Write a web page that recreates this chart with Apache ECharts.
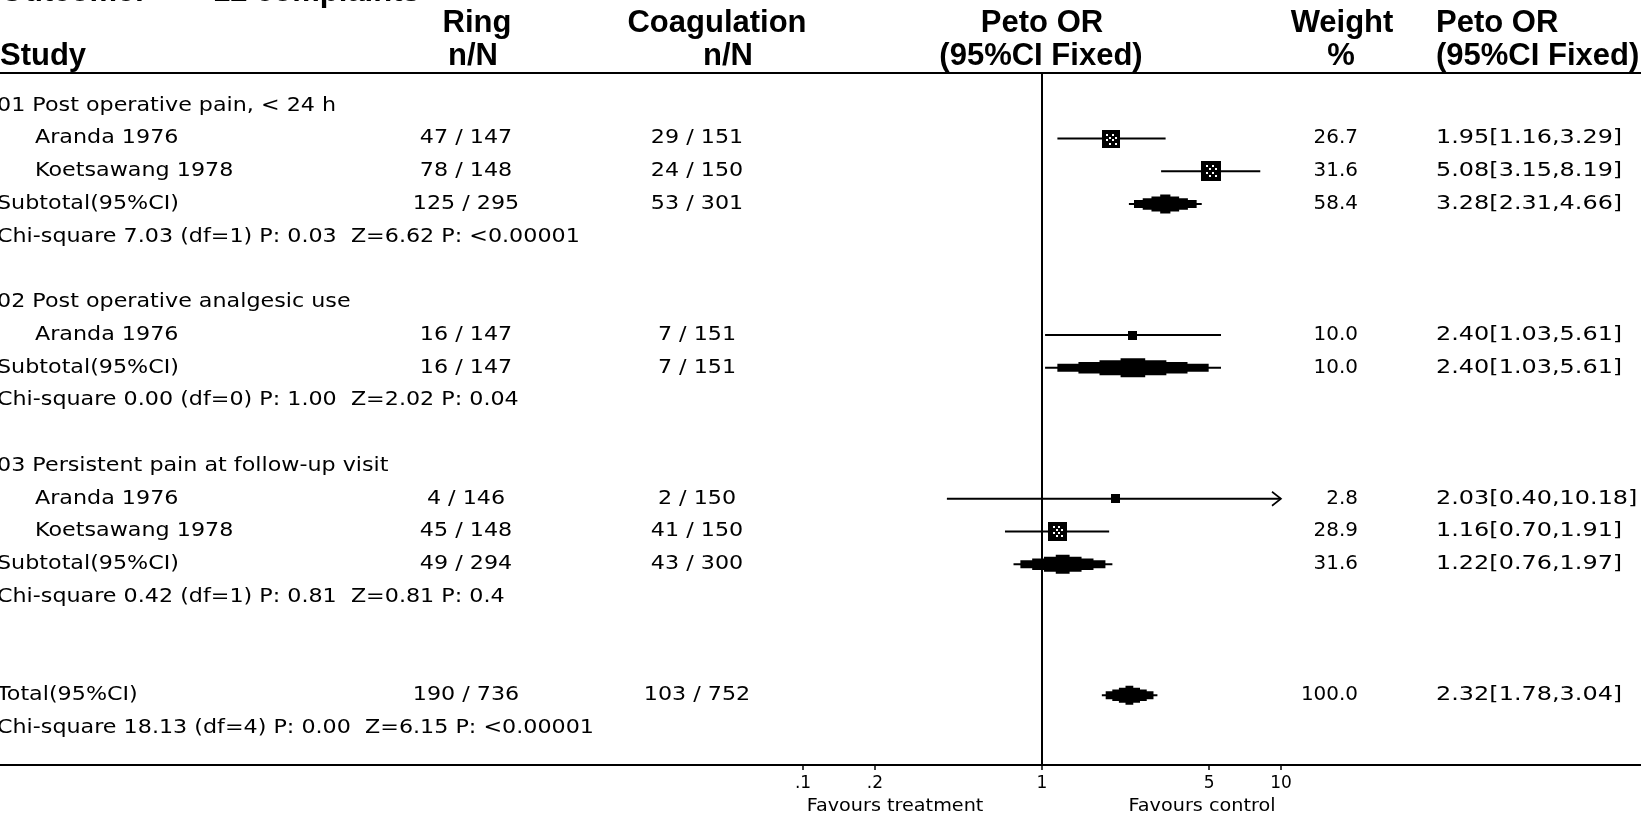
<!DOCTYPE html>
<html>
<head>
<meta charset="utf-8">
<script src="https://cdn.jsdelivr.net/npm/echarts@6/dist/echarts.min.js"></script>
<style>html,body{margin:0;padding:0;background:#fff}#c{width:1641px;height:814px}</style>
</head>
<body>
<div id="c"></div>
<script>
// ---------------- data ----------------
const rowLabels = [
  '01 Post operative pain, < 24 h',
  'Aranda 1976',
  'Koetsawang 1978',
  'Subtotal(95%CI)',
  'Chi-square 7.03 (df=1) P: 0.03  Z=6.62 P: <0.00001',
  '',
  '02 Post operative analgesic use',
  'Aranda 1976',
  'Subtotal(95%CI)',
  'Chi-square 0.00 (df=0) P: 1.00  Z=2.02 P: 0.04',
  '',
  '03 Persistent pain at follow-up visit',
  'Aranda 1976',
  'Koetsawang 1978',
  'Subtotal(95%CI)',
  'Chi-square 0.42 (df=1) P: 0.81  Z=0.81 P: 0.4',
  '',
  '',
  'Total(95%CI)',
  'Chi-square 18.13 (df=4) P: 0.00  Z=6.15 P: <0.00001'
];

// n/N columns
const nnRows      = [1, 2, 3, 7, 8, 12, 13, 14, 18];
const ringEvents  = [47, 78, 125, 16, 16, 4, 45, 49, 190];
const ringTotal   = [147, 148, 295, 147, 147, 146, 148, 294, 736];
const coagEvents  = [29, 24, 53, 7, 7, 2, 41, 43, 103];
const coagTotal   = [151, 150, 301, 151, 151, 150, 150, 300, 752];

// individual studies
const studyRows   = [1, 2, 7, 12, 13];
const studyOR     = [1.95, 5.08, 2.40, 2.03, 1.16];
const studyLo     = [1.16, 3.15, 1.03, 0.40, 0.70];
const studyHi     = [3.29, 8.19, 5.61, 10.18, 1.91];
const studyWeight = [26.7, 31.6, 10.0, 2.8, 28.9];

// pooled estimates (subtotals and total)
const pooledRows   = [3, 8, 14, 18];
const pooledOR     = [3.28, 2.40, 1.22, 2.32];
const pooledLo     = [2.31, 1.03, 0.76, 1.78];
const pooledHi     = [4.66, 5.61, 1.97, 3.04];
const pooledWeight = [58.4, 10.0, 31.6, 100.0];

// axis ticks
const tickValues = [0.1, 0.2, 1, 5, 10];
const tickLabels = ['.1', '.2', '1', '5', '10'];
const nullValue = 1;

// ---------------- layout ----------------
const W = 1641, H = 814;
const NULL_X = 1042, DECADE = 239;
const GRID_TOP = 73, GRID_BOTTOM = 49, ROW_H = 32.75;
const Y_MIN = -1, Y_MAX = Y_MIN + (H - GRID_TOP - GRID_BOTTOM) / ROW_H;
const COL = { left: -3, study: 35, ring: 466, coag: 697, weight: 1358, or: 1436 };
const BODY_FONT = '19px "DejaVu Sans"';
const BODY_SX = 1.17;
const OR_SX = 1.26;
const WEIGHT_SX = 1.05;
const HEAD_FONT = 'bold 31px "Liberation Sans"';

const L = Math.log10;
const plotLo = L(tickValues[0]), plotHi = L(tickValues[tickValues.length - 1]);

function txt(x, y, text, align, font, sx) {
  return { type: 'text', x: x, y: y, scaleX: sx || BODY_SX,
    style: { text: text, font: font || BODY_FONT, fill: '#000', align: align, verticalAlign: 'middle' } };
}

// ---------------- render functions ----------------
function renderTable(params, api) {
  const r = params.dataIndex;
  const y = api.coord([0, r])[1];
  const kids = [];
  const label = rowLabels[r];
  if (label) kids.push(txt(studyRows.indexOf(r) >= 0 ? COL.study : COL.left, y, label, 'left'));
  const k = nnRows.indexOf(r);
  if (k >= 0) {
    kids.push(txt(COL.ring, y, ringEvents[k] + ' / ' + ringTotal[k], 'center'));
    kids.push(txt(COL.coag, y, coagEvents[k] + ' / ' + coagTotal[k], 'center'));
  }
  let s = studyRows.indexOf(r), p = pooledRows.indexOf(r);
  let w = null, o, lo, hi;
  if (s >= 0) { w = studyWeight[s]; o = studyOR[s]; lo = studyLo[s]; hi = studyHi[s]; }
  else if (p >= 0) { w = pooledWeight[p]; o = pooledOR[p]; lo = pooledLo[p]; hi = pooledHi[p]; }
  if (w !== null) {
    kids.push(txt(COL.weight, y, w.toFixed(1), 'right', null, WEIGHT_SX));
    kids.push(txt(COL.or, y, o.toFixed(2) + '[' + lo.toFixed(2) + ',' + hi.toFixed(2) + ']', 'left', null, OR_SX));
  }
  return { type: 'group', children: kids };
}

function renderStudy(params, api) {
  const row = api.value(1);
  const c = api.coord([api.value(0), row]);
  const loV = api.value(2), hiV = api.value(3);
  const a = api.coord([Math.max(loV, plotLo), row]);
  const b = api.coord([Math.min(hiV, plotHi), row]);
  const w = api.value(4);
  const s = Math.round(Math.max(9, 4.2 * Math.sqrt(w) - 4));
  const x0 = Math.round(c[0] - s / 2), y0 = Math.round(c[1] - s / 2);
  const kids = [
    { type: 'line', shape: { x1: a[0], y1: c[1], x2: b[0], y2: c[1] }, style: { stroke: '#000', lineWidth: 2 } },
    { type: 'rect', shape: { x: x0, y: y0, width: s, height: s }, style: { fill: '#000' } }
  ];
  if (s >= 14) {
    const dots = [[.3,.25],[.6,.25],[.45,.42],[.75,.42],[.3,.58],[.6,.58],[.45,.75],[.75,.75]];
    dots.forEach(function (d) {
      kids.push({ type: 'rect', shape: { x: Math.round(x0 + d[0] * s - 1), y: Math.round(y0 + d[1] * s - 1), width: 2, height: 2 }, style: { fill: '#fff' } });
    });
  }
  if (hiV > plotHi) {
    kids.push({ type: 'polyline', shape: { points: [[b[0] - 9, c[1] - 7], [b[0], c[1]], [b[0] - 9, c[1] + 7]] },
      style: { stroke: '#000', lineWidth: 1.6, fill: 'none' } });
  }
  if (loV < plotLo) {
    kids.push({ type: 'polyline', shape: { points: [[a[0] + 9, c[1] - 7], [a[0], c[1]], [a[0] + 9, c[1] + 7]] },
      style: { stroke: '#000', lineWidth: 1.6, fill: 'none' } });
  }
  return { type: 'group', children: kids };
}

// stepped diamond, as drawn by the original software
const STEP_FRAC = [0.14, 0.38, 0.62, 0.86];
const STEP_H = [8, 11.5, 15, 19];
function renderPooled(params, api) {
  const row = api.value(1);
  const c = api.coord([api.value(0), row]);
  const a = api.coord([api.value(2), row]);
  const b = api.coord([api.value(3), row]);
  const kids = [
    { type: 'line', shape: { x1: a[0], y1: c[1], x2: b[0], y2: c[1] }, style: { stroke: '#000', lineWidth: 2 } }
  ];
  STEP_FRAC.forEach(function (f, i) {
    const xl = a[0] + (c[0] - a[0]) * f, xr = b[0] - (b[0] - c[0]) * f;
    const h = STEP_H[i];
    kids.push({ type: 'rect', shape: { x: xl, y: c[1] - h / 2, width: xr - xl, height: h }, style: { fill: '#000' } });
  });
  return { type: 'group', children: kids };
}

function renderNull(params, api) {
  const x = api.coord([api.value(0), 0])[0];
  const cs = params.coordSys;
  return { type: 'line', shape: { x1: x, y1: cs.y, x2: x, y2: cs.y + cs.height }, style: { stroke: '#000', lineWidth: 2 } };
}

// ---------------- header / footer graphics ----------------
const head1Y = 23, head2Y = 56;
const headerTexts = [
  ['Outcome:', 0, -7.5, 'left'], ['12 complaints', 213, -7.5, 'left'],
  ['Ring', 477, head1Y, 'center'], ['n/N', 473, head2Y, 'center'],
  ['Coagulation', 717, head1Y, 'center'], ['n/N', 728, head2Y, 'center'],
  ['Peto OR', 1042, head1Y, 'center'], ['(95%CI Fixed)', 1041, head2Y, 'center'],
  ['Weight', 1342, head1Y, 'center'], ['%', 1341, head2Y, 'center'],
  ['Peto OR', 1436, head1Y, 'left'], ['(95%CI Fixed)', 1436, head2Y, 'left'],
  ['Study', 0, head2Y, 'left']
];
const graphics = headerTexts.map(function (t) { return txt(t[1], t[2], t[0], t[3], HEAD_FONT, 1); });
graphics.push(txt(895, 807, 'Favours treatment', 'center', '17px "DejaVu Sans"', 1.13));
graphics.push(txt(1202, 807, 'Favours control', 'center', '17px "DejaVu Sans"', 1.13));

// ---------------- chart ----------------
const chart = echarts.init(document.getElementById('c'));
chart.setOption({
  animation: false,
  backgroundColor: '#fff',
  grid: { left: 0, right: 0, top: GRID_TOP, bottom: GRID_BOTTOM, containLabel: false },
  xAxis: [{
    type: 'value', min: -NULL_X / DECADE, max: (W - NULL_X) / DECADE,
    axisLine: { show: true, onZero: false, lineStyle: { color: '#000', width: 2 } },
    axisTick: { show: true, customValues: tickValues.map(L), length: 5, lineStyle: { color: '#000', width: 1.5 } },
    axisLabel: { show: true, customValues: tickValues.map(L), margin: 10, color: '#000', fontFamily: 'DejaVu Sans', fontSize: 17,
      formatter: function (v) { let best = 0; tickValues.forEach(function (t, i) { if (Math.abs(L(t) - v) < Math.abs(L(tickValues[best]) - v)) best = i; }); return tickLabels[best]; } },
    splitLine: { show: false }
  }, {
    type: 'value', position: 'top', min: 0, max: 1,
    axisLine: { show: true, onZero: false, lineStyle: { color: '#000', width: 2 } },
    axisTick: { show: false }, axisLabel: { show: false }, splitLine: { show: false }
  }],
  yAxis: { type: 'value', inverse: true, min: Y_MIN, max: Y_MAX, show: false },
  graphic: { elements: graphics },
  series: [
    { type: 'custom', name: 'null line', renderItem: renderNull, data: [[L(nullValue), 0]], clip: false, silent: true, z: 1 },
    { type: 'custom', name: 'table', renderItem: renderTable, data: rowLabels.map(function (_, i) { return [0, i]; }), clip: false, silent: true, z: 3 },
    { type: 'custom', name: 'studies', renderItem: renderStudy, clip: false, silent: true, z: 2,
      data: studyRows.map(function (r, i) { return [L(studyOR[i]), r, L(studyLo[i]), L(studyHi[i]), studyWeight[i]]; }) },
    { type: 'custom', name: 'pooled', renderItem: renderPooled, clip: false, silent: true, z: 2,
      data: pooledRows.map(function (r, i) { return [L(pooledOR[i]), r, L(pooledLo[i]), L(pooledHi[i]), pooledWeight[i]]; }) }
  ]
});
</script>
</body>
</html>
